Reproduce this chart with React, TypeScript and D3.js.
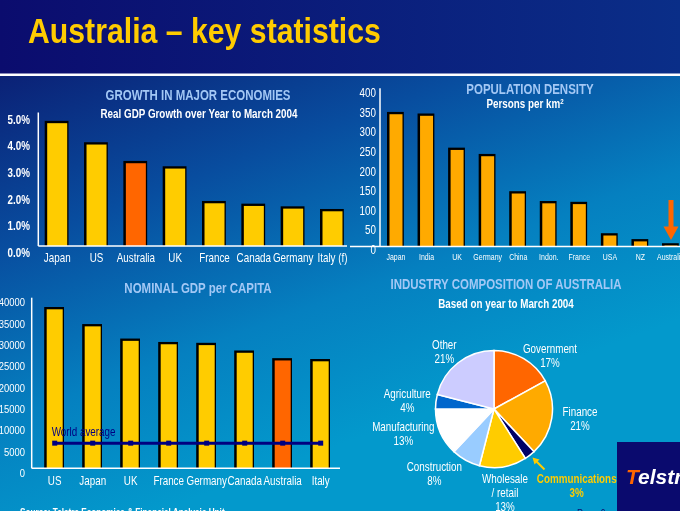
import React from 'react';
import * as d3 from 'd3';

const growthCountries = ['Japan', 'US', 'Australia', 'UK', 'France', 'Canada', 'Germany', 'Italy (f)'];
const growthValues = [4.6, 3.8, 3.1, 2.9, 1.6, 1.5, 1.4, 1.3];
const growthTicks = [0, 1, 2, 3, 4, 5];

const densityCountries = ['Japan', 'India', 'UK', 'Germany', 'China', 'Indon.', 'France', 'USA', 'NZ', 'Australia'];
const densityValues = [337, 333, 246, 230, 135, 110, 108, 28, 13, 2.5];
const densityTicks = [0, 50, 100, 150, 200, 250, 300, 350, 400];

const gdpCountries = ['US', 'Japan', 'UK', 'France', 'Germany', 'Canada', 'Australia', 'Italy'];
const gdpValues = [37300, 33300, 29900, 29100, 28900, 27100, 25300, 25100];
const worldAverage = 5900;
const gdpTicks = [0, 5000, 10000, 15000, 20000, 25000, 30000, 35000, 40000];

const industryNames = ['Government', 'Finance', 'Communications', 'Wholesale / retail', 'Construction', 'Manufacturing', 'Agriculture', 'Other'];
const industryValues = [17, 21, 3, 13, 8, 13, 4, 21];

const FONT = "'Liberation Sans', Arial, sans-serif";
const YELLOW = '#ffcc00';
const ORANGE = '#ff6600';
const AMBER = '#ffaa00';
const LIGHTBLUE = '#a3c8f5';

function NT({ x, y, sx = 0.82, children, ...rest }: any) {
  return (
    <text transform={`translate(${x},${y}) scale(${sx},1)`} x={0} y={0} fontFamily={FONT} {...rest}>
      {children}
    </text>
  );
}

function Bar({ x, y, w, h, fill }: { x: number; y: number; w: number; h: number; fill: string }) {
  return (
    <g>
      <rect x={x - 2.5} y={y - 2.3} width={w + 3.8} height={h + 2.3} fill="#000" />
      <rect x={x} y={y} width={w} height={h} fill={fill} />
    </g>
  );
}

function GrowthChart() {
  const x = d3.scalePoint<string>().domain(growthCountries).range([57.2, 332.5]);
  const y = d3.scaleLinear().domain([0, 5]).range([246, 112.5]);
  const w = 20;
  return (
    <g>
      <NT x={198} y={99.5} textAnchor="middle" fill={LIGHTBLUE} fontWeight="bold" fontSize={14}>GROWTH IN MAJOR ECONOMIES</NT>
      <NT x={199} y={117.5} textAnchor="middle" fill="#fff" fontWeight="bold" fontSize={12}>Real GDP Growth over Year to March 2004</NT>
      {growthCountries.map((c, i) => (
        <Bar key={c} x={x(c)! - w / 2} y={y(growthValues[i])} w={w} h={y(0) - y(growthValues[i])} fill={c === 'Australia' ? ORANGE : YELLOW} />
      ))}
      <line x1={38.3} x2={38.3} y1={112.5} y2={246} stroke="#fff" strokeWidth={1.5} />
      <line x1={38.3} x2={347} y1={246} y2={246} stroke="#fff" strokeWidth={1.5} />
      {growthTicks.map((t) => (
        <NT key={t} x={30} y={y(t) + 11} textAnchor="end" fill="#fff" fontWeight="bold" fontSize={12}>{t.toFixed(1) + '%'}</NT>
      ))}
      {growthCountries.map((c) => (
        <NT key={c} x={x(c)!} y={262} textAnchor="middle" fill="#fff" fontSize={12}>{c}</NT>
      ))}
    </g>
  );
}

function DensityChart() {
  const x = d3.scalePoint<string>().domain(densityCountries).range([396, 671]);
  const y = d3.scaleLinear().domain([0, 400]).range([246.5, 89.5]);
  const w = 13;
  const ax = x('Australia')!;
  return (
    <g>
      <NT x={530} y={93.5} textAnchor="middle" fill={LIGHTBLUE} fontWeight="bold" fontSize={14}>POPULATION DENSITY</NT>
      <NT x={525} y={107.5} textAnchor="middle" fill="#fff" fontWeight="bold" fontSize={12}>
        Persons per km<tspan dy={-4} fontSize={7.5}>2</tspan>
      </NT>
      {densityCountries.map((c, i) => (
        <Bar key={c} x={x(c)! - w / 2} y={y(densityValues[i])} w={w} h={y(0) - y(densityValues[i])} fill={AMBER} />
      ))}
      <line x1={380} x2={380} y1={88.3} y2={246.5} stroke="#fff" strokeWidth={1.5} />
      <line x1={350} x2={680} y1={246.5} y2={246.5} stroke="#fff" strokeWidth={1.5} />
      {densityTicks.map((t) => (
        <NT key={t} x={376} y={y(t) + 7.5} textAnchor="end" fill="#fff" fontSize={12}>{t}</NT>
      ))}
      {densityCountries.map((c) => (
        <NT key={c} x={c === 'Australia' ? 657 : x(c)!} y={260} textAnchor={c === 'Australia' ? 'start' : 'middle'} fill="#fff" fontSize={8.5}>{c}</NT>
      ))}
      <rect x={ax - 2.5} y={200} width={5} height={28} fill={ORANGE} />
      <path d={`M${ax - 7.5},226.5 L${ax + 7.5},226.5 L${ax},240 Z`} fill={ORANGE} />
    </g>
  );
}

function GdpChart() {
  const x = d3.scalePoint<string>().domain(gdpCountries).range([54.7, 320.7]);
  const y = d3.scaleLinear().domain([0, 40000]).range([468.3, 297.8]);
  const w = 16;
  const line = d3.line<string>().x((c) => x(c)!).y(() => y(worldAverage));
  return (
    <g>
      <NT x={198} y={292.5} textAnchor="middle" fill={LIGHTBLUE} fontWeight="bold" fontSize={14}>NOMINAL GDP per CAPITA</NT>
      {gdpCountries.map((c, i) => (
        <Bar key={c} x={x(c)! - w / 2} y={y(gdpValues[i])} w={w} h={y(0) - y(gdpValues[i])} fill={c === 'Australia' ? ORANGE : YELLOW} />
      ))}
      <line x1={31.7} x2={31.7} y1={297.7} y2={468.3} stroke="#fff" strokeWidth={1.5} />
      <line x1={31.7} x2={340} y1={468.3} y2={468.3} stroke="#fff" strokeWidth={1.5} />
      {gdpTicks.map((t) => (
        <NT key={t} x={25} y={y(t) + 8.6} textAnchor="end" fill="#fff" fontSize={11.5}>{t}</NT>
      ))}
      {gdpCountries.map((c) => (
        <NT key={c} x={x(c)!} y={484.5} textAnchor="middle" fill="#fff" fontSize={12}>{c}</NT>
      ))}
      <path d={line(gdpCountries) || ''} stroke="#000080" strokeWidth={3} fill="none" />
      {gdpCountries.map((c) => (
        <rect key={c} x={x(c)! - 2.5} y={y(worldAverage) - 2.5} width={5} height={5} fill="#000080" />
      ))}
      <NT x={51.7} y={436} fill="#000080" fontSize={12}>World average</NT>
    </g>
  );
}

function IndustryPie() {
  const cx = 494;
  const cy = 409;
  const r = 58.5;
  const colors = d3.scaleOrdinal<string, string>().domain(industryNames).range([ORANGE, AMBER, '#000066', YELLOW, '#99ccff', '#ffffff', '#0066cc', '#ccccff']);
  const pie = d3.pie<number>().sort(null).value((d) => d);
  const arcs = pie(industryValues);
  const arc = d3.arc<d3.PieArcDatum<number>>().innerRadius(0).outerRadius(r);
  const labels: { lines: string[]; x: number; y: number; color: string }[] = [
    { lines: ['Government', '17%'], x: 550, y: 353, color: '#fff' },
    { lines: ['Finance', '21%'], x: 580, y: 416, color: '#fff' },
    { lines: ['Communications', '3%'], x: 576.7, y: 483, color: YELLOW },
    { lines: ['Wholesale', '/ retail', '13%'], x: 505, y: 483, color: '#fff' },
    { lines: ['Construction', '8%'], x: 434.3, y: 470.7, color: '#fff' },
    { lines: ['Manufacturing', '13%'], x: 403.3, y: 430.7, color: '#fff' },
    { lines: ['Agriculture', '4%'], x: 407.3, y: 398, color: '#fff' },
    { lines: ['Other', '21%'], x: 444.3, y: 349, color: '#fff' },
  ];
  return (
    <g>
      <NT x={506} y={288.5} textAnchor="middle" fill={LIGHTBLUE} fontWeight="bold" fontSize={14}>INDUSTRY COMPOSITION OF AUSTRALIA</NT>
      <NT x={506} y={307.5} textAnchor="middle" fill="#fff" fontWeight="bold" fontSize={12}>Based on year to March 2004</NT>
      <g transform={`translate(${cx},${cy})`}>
        {arcs.map((a, i) => (
          <path key={i} d={arc(a) || ''} fill={colors(industryNames[i])} stroke="#fff" strokeWidth={1.5} />
        ))}
      </g>
      {labels.map((l, i) => (
        <NT key={i} x={l.x} y={l.y} textAnchor="middle" fill={l.color} fontSize={12} fontWeight={l.color === YELLOW ? 'bold' : 'normal'}>
          {l.lines.map((s, j) => (
            <tspan key={j} x={0} dy={j === 0 ? 0 : 14}>{s}</tspan>
          ))}
        </NT>
      ))}
      <line x1={544.5} y1={469.5} x2={536} y2={461} stroke={YELLOW} strokeWidth={2} />
      <path d="M532.5,457.5 L539.5,459.5 L534.5,464.5 Z" fill={YELLOW} />
    </g>
  );
}

export default function App() {
  return (
    <svg width={680} height={511} style={{ position: 'fixed', left: 0, top: 0 }} xmlns="http://www.w3.org/2000/svg">
      <defs>
        <linearGradient id="top" x1="0" y1="0" x2="1" y2="0">
          <stop offset="0" stopColor="#0b0c6e" />
          <stop offset="1" stopColor="#0a2e88" />
        </linearGradient>
        <linearGradient id="body" gradientUnits="userSpaceOnUse" x1={0} y1={76} x2={160} y2={511}>
          <stop offset="0" stopColor="#0b2176" />
          <stop offset="0.35" stopColor="#084d9f" />
          <stop offset="0.7" stopColor="#0580c0" />
          <stop offset="1" stopColor="#0399cc" />
        </linearGradient>
      </defs>
      <rect x={0} y={0} width={680} height={74} fill="url(#top)" />
      <rect x={0} y={76} width={680} height={435} fill="url(#body)" />
      <rect x={0} y={73.5} width={680} height={2.5} fill="#fff" />
      <NT x={28} y={43} sx={0.84} fill={YELLOW} fontWeight="bold" fontSize={36}>Australia –  key statistics</NT>
      <GrowthChart />
      <DensityChart />
      <GdpChart />
      <IndustryPie />
      <rect x={617} y={442} width={63} height={69} fill="#0a0a6e" />
      <text x={626} y={484} fontFamily={FONT} fontWeight="bold" fontStyle="italic" fontSize={21} fill="#fff">
        <tspan fill={ORANGE}>T</tspan>elstra
      </text>
      <NT x={20} y={516} fill="#fff" fontSize={10} fontWeight="bold">Source: Telstra Economics &amp; Financial Analysis Unit</NT>
      <NT x={577} y={517} fill="#0a0a6e" fontSize={11}>Page 6</NT>
    </svg>
  );
}
